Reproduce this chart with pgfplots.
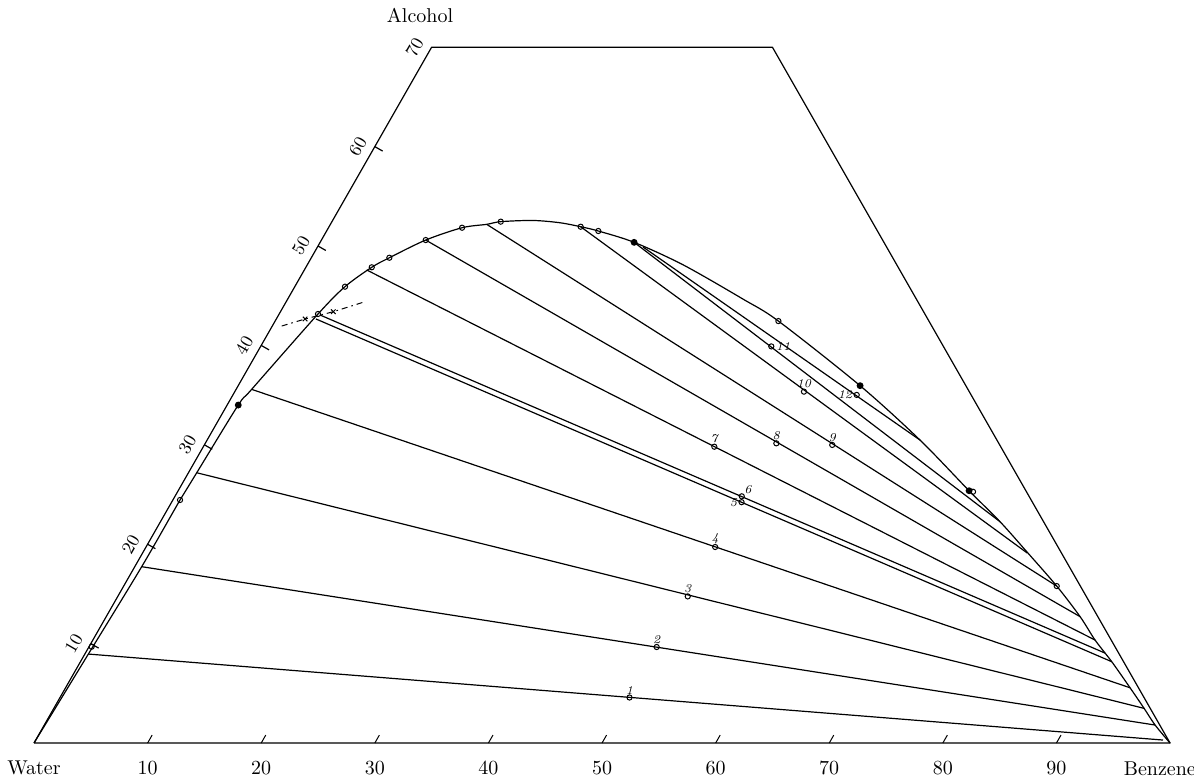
\documentclass[border=0pt]{standalone}
\usepackage{pgfplots}
\pgfplotsset{compat=1.18}
\usepackage{pgfplotstable}

% ternary data: b = benzene %, a = alcohol %
\pgfplotsset{table/tern/.style={/pgfplots/table/x expr={\thisrow{b}+0.5*\thisrow{a}}, /pgfplots/table/y expr={\thisrow{a}}}}

\pgfplotstableread{
b a
0 0
0.31 8.95
0.61 17.74
0.63 24.45
0.73 27.19
0.98 34.00
1.37 35.58
3.42 43.16
4.42 45.91
5.80 47.86
6.87 48.82
9.18 50.60
11.76 51.84
13.76 52.18
14.86 52.45
17.64 52.57
20.13 52.34
22.15 51.94
23.92 51.51
27.64 50.37
33.12 48.09
40.12 44.64
44.30 42.45
54.74 35.95
62.75 30.48
69.62 25.38
73.91 22.26
77.76 19.25
82.13 15.79
85.73 12.71
88.22 10.36
90.78 8.18
93.70 5.56
95.97 3.49
97.78 1.81
100 0
}\binodal

\pgfplotstableread{
b a
0.23 9.69
0.63 24.45
3.42 43.16
4.42 45.91
5.80 47.86
6.87 48.82
9.18 50.60
11.76 51.84
14.86 52.45
22.15 51.94
23.92 51.51
44.30 42.45
70.02 25.28
82.13 15.79
}\opencurve

\pgfplotstableread{
b a
0.98 34.00
27.64 50.37
54.74 35.95
69.62 25.38
}\filledcurve

\pgfplotstableread{
b a lab
50.13 4.58 1
49.98 9.66 2
50.17 14.75 3
50.10 19.72 4
44.98 29.81 7
50.27 30.15 8
55.27 29.99 9
50.10 35.35 10
}\ptsabove

\pgfplotstableread{
b a lab
50.17 24.23 5
54.91 35.02 12
}\ptsleft

\pgfplotstableread{
b a lab
44.95 39.90 11
}\ptsright

\pgfplotstableread{
b a lab
49.89 24.82 6
}\ptsaboveright

\pgfplotstableread{
b a
0.83 41.95
2.53 42.66
4.65 43.39
6.94 44.40
}\dashline

\pgfplotstableread{
b a
2.53 42.66
4.65 43.39
}\xmarks

\begin{document}
\begin{tikzpicture}
\begin{axis}[
  x=5.68pt, y=4.97pt,
  xmin=-2.993, xmax=102.11, ymin=-3.42, ymax=74.75,
  hide axis, clip=false,
  every axis plot/.append style={black, line width=0.6pt},
]
% frame (truncated triangle)
\addplot[mark=none, line join=round] table[tern, row sep=\\] {b a\\ 0 0\\ 100 0\\ 30 70\\ 0 70\\ 0 0\\};

% binodal curve
\addplot[mark=none, smooth, tension=0.5] table[tern] {\binodal};

% tie lines
\addplot[mark=none] table[tern, row sep=\\] {b a\\ 0.31 8.95\\ 99.23 0.30\\};
\addplot[mark=none] table[tern, row sep=\\] {b a\\ 0.61 17.74\\ 97.78 1.81\\};
\addplot[mark=none] table[tern, row sep=\\] {b a\\ 0.73 27.19\\ 95.97 3.49\\};
\addplot[mark=none] table[tern, row sep=\\] {b a\\ 1.37 35.58\\ 93.70 5.56\\};
\addplot[mark=none] table[tern, row sep=\\] {b a\\ 3.49 42.66\\ 90.78 8.18\\};
\addplot[mark=none] table[tern, row sep=\\] {b a\\ 3.65 43.06\\ 89.75 9.05\\};
\addplot[mark=none] table[tern, row sep=\\] {b a\\ 5.49 47.59\\ 88.22 10.36\\};
\addplot[mark=none] table[tern, row sep=\\] {b a\\ 9.18 50.60\\ 85.73 12.71\\};
\addplot[mark=none] table[tern, row sep=\\] {b a\\ 13.76 52.18\\ 82.13 15.79\\};
\addplot[mark=none] table[tern, row sep=\\] {b a\\ 22.15 51.94\\ 77.90 19.10\\};
\addplot[mark=none] table[tern, row sep=\\] {b a\\ 27.64 50.37\\ 73.91 22.26\\};
\addplot[mark=none] table[tern, row sep=\\] {b a\\ 28.66 49.90\\ 62.75 30.48\\};

% dash-dotted line with crosses
\addplot[mark=none, dash pattern=on 3pt off 2pt on 0.8pt off 2pt, line width=0.5pt] table[tern] {\dashline};
\addplot[only marks, mark=x, mark size=1.6pt, line width=0.5pt] table[tern] {\xmarks};

% points on the curve
\addplot[only marks, mark=o, mark size=1.3pt, line width=0.5pt, mark options={fill=white}] table[tern] {\opencurve};
\addplot[only marks, mark=*, mark size=1.4pt] table[tern] {\filledcurve};

% numbered mixture points
\addplot[only marks, mark=o, mark size=1.3pt, line width=0.5pt, mark options={fill=white},
  point meta=explicit symbolic, nodes near coords,
  nodes near coords style={font=\fontsize{6}{7}\selectfont\itshape, anchor=south, inner sep=1.5pt}]
  table[tern, meta=lab] {\ptsabove};
\addplot[only marks, mark=o, mark size=1.3pt, line width=0.5pt, mark options={fill=white},
  point meta=explicit symbolic, nodes near coords,
  nodes near coords style={font=\fontsize{6}{7}\selectfont\itshape, anchor=east, inner sep=2pt}]
  table[tern, meta=lab] {\ptsleft};
\addplot[only marks, mark=o, mark size=1.3pt, line width=0.5pt, mark options={fill=white},
  point meta=explicit symbolic, nodes near coords,
  nodes near coords style={font=\fontsize{6}{7}\selectfont\itshape, anchor=west, inner sep=2pt}]
  table[tern, meta=lab] {\ptsright};
\addplot[only marks, mark=o, mark size=1.3pt, line width=0.5pt, mark options={fill=white},
  point meta=explicit symbolic, nodes near coords,
  nodes near coords style={font=\fontsize{6}{7}\selectfont\itshape, anchor=south west, inner sep=1pt}]
  table[tern, meta=lab] {\ptsaboveright};

% ticks on the base and on the left side
\pgfplotsinvokeforeach{10,20,...,90}{
  \draw[line width=0.5pt] (axis cs:#1,0) -- (axis cs:{#1+0.4},0.8);
  \node[font=\fontsize{10}{12}\selectfont] at (axis cs:#1,-2.55) {#1};
}
\pgfplotsinvokeforeach{10,20,...,60}{
  \draw[line width=0.6pt] (axis cs:{#1/2},#1) -- (axis cs:{#1/2+0.69},{#1-0.45});
}
\pgfplotsinvokeforeach{10,20,...,70}{
  \node[font=\fontsize{9}{10}\selectfont, rotate=60, inner sep=0pt] at ([xshift=-8.5pt]axis cs:{#1/2},#1) {#1};
}
\node[font=\fontsize{10}{12}\selectfont] at (axis cs:0,-2.55) {Water};
\node[font=\fontsize{10}{12}\selectfont] at (axis cs:99.1,-2.55) {Benzene};
\node[font=\fontsize{10}{12}\selectfont] at (axis cs:33.98,73.2) {Alcohol};

\coordinate (BL) at (axis cs:-2.993,-3.42);
\coordinate (TR) at (axis cs:102.11,74.75);
\end{axis}
\pgfresetboundingbox
\path[use as bounding box] (BL) rectangle (TR);
\end{tikzpicture}
\end{document}
